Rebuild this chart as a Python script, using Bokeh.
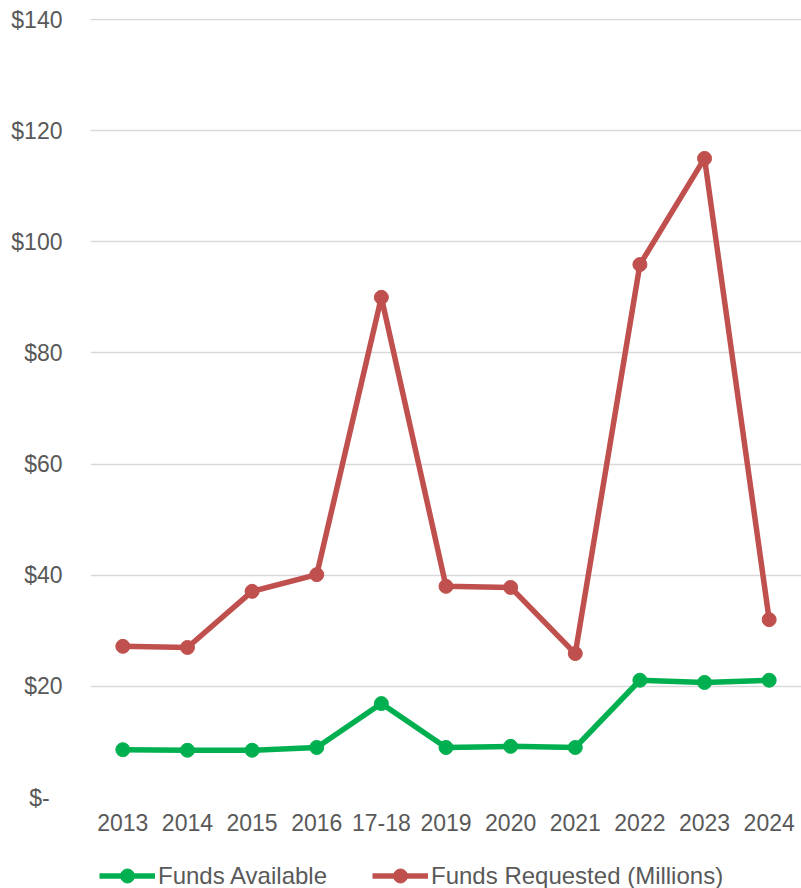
from bokeh.plotting import figure
from bokeh.layouts import column
from bokeh.models import FactorRange, Range1d, FixedTicker, Legend, LegendItem, ColumnDataSource
from bokeh.embed import file_html
from bokeh.resources import INLINE

categories = ["2013", "2014", "2015", "2016", "17-18", "2019", "2020", "2021", "2022", "2023", "2024"]
funds_available = [8.6, 8.5, 8.5, 9.0, 16.9, 9.0, 9.2, 9.0, 21.1, 20.7, 21.1]
funds_requested = [27.2, 27.0, 37.1, 40.1, 90.0, 38.0, 37.8, 25.9, 95.9, 115.0, 32.0]
y_ticks = [0, 20, 40, 60, 80, 100, 120, 140]
y_tick_labels = ["$-\u00a0\u00a0", "$20", "$40", "$60", "$80", "$100", "$120", "$140"]
series_labels = ["Funds Available", "Funds Requested (Millions)"]

GREEN = "#00B050"
RED = "#C0504D"
TEXT = "#595959"
FONT = "Liberation Sans"

src = ColumnDataSource(dict(cat=categories, avail=funds_available, req=funds_requested))

p = figure(x_range=FactorRange(factors=categories, range_padding=0),
           y_range=Range1d(0, 140.18),
           width=801, height=840, output_backend="svg", toolbar_location=None,
           min_border_left=90, min_border_right=0, min_border_top=18, min_border_bottom=43)
p.outline_line_color = None
p.background_fill_color = "white"

p.line("cat", "avail", source=src, line_color=GREEN, line_width=5.5)
p.scatter("cat", "avail", source=src, size=14, fill_color=GREEN, line_color=GREEN)
p.line("cat", "req", source=src, line_color=RED, line_width=5.5)
p.scatter("cat", "req", source=src, size=14, fill_color=RED, line_color=RED)

p.yaxis.ticker = FixedTicker(ticks=y_ticks)
p.yaxis.major_label_overrides = {t: s for t, s in zip(y_ticks, y_tick_labels)}
for ax in (p.xaxis[0], p.yaxis[0]):
    ax.axis_line_color = None
    ax.major_tick_line_color = None
    ax.minor_tick_line_color = None
    ax.major_tick_out = 0
    ax.major_tick_in = 0
    ax.major_label_text_color = TEXT
    ax.major_label_text_font = FONT
    ax.major_label_text_font_size = "23px"
p.yaxis.major_label_standoff = 28
p.xaxis.major_label_standoff = 16

p.xgrid.grid_line_color = None
p.ygrid.grid_line_color = "#D9D9D9"
p.ygrid.grid_line_width = 1.5

# legend strip below the chart (swatch renderers sit outside its visible range)
pl = figure(x_range=Range1d(0, 1), y_range=Range1d(0, 1), width=801, height=48,
            output_backend="svg", toolbar_location=None,
            min_border_left=0, min_border_right=0, min_border_top=0, min_border_bottom=0)
pl.axis.visible = False
pl.grid.grid_line_color = None
pl.outline_line_color = None
gl = pl.line(x=[-5, -4], y=[-5, -5], line_color=GREEN, line_width=5.5)
gs = pl.scatter(x=[-5], y=[-5], size=14, fill_color=GREEN, line_color=GREEN)
rl = pl.line(x=[-5, -4], y=[-5, -5], line_color=RED, line_width=5.5)
rs = pl.scatter(x=[-5], y=[-5], size=14, fill_color=RED, line_color=RED)

legend = Legend(items=[LegendItem(label=series_labels[0], renderers=[gl, gs]),
                       LegendItem(label=series_labels[1], renderers=[rl, rs])],
                orientation="horizontal", location=(9, -5),
                label_text_font=FONT, label_text_font_size="24px", label_text_color=TEXT,
                glyph_width=56, glyph_height=35, label_height=35, label_standoff=3, spacing=45,
                margin=0, padding=0, border_line_color=None, background_fill_alpha=0)
pl.add_layout(legend, "center")

layout = column(p, pl, spacing=0)
open("out.html", "w").write(file_html(layout, INLINE))
